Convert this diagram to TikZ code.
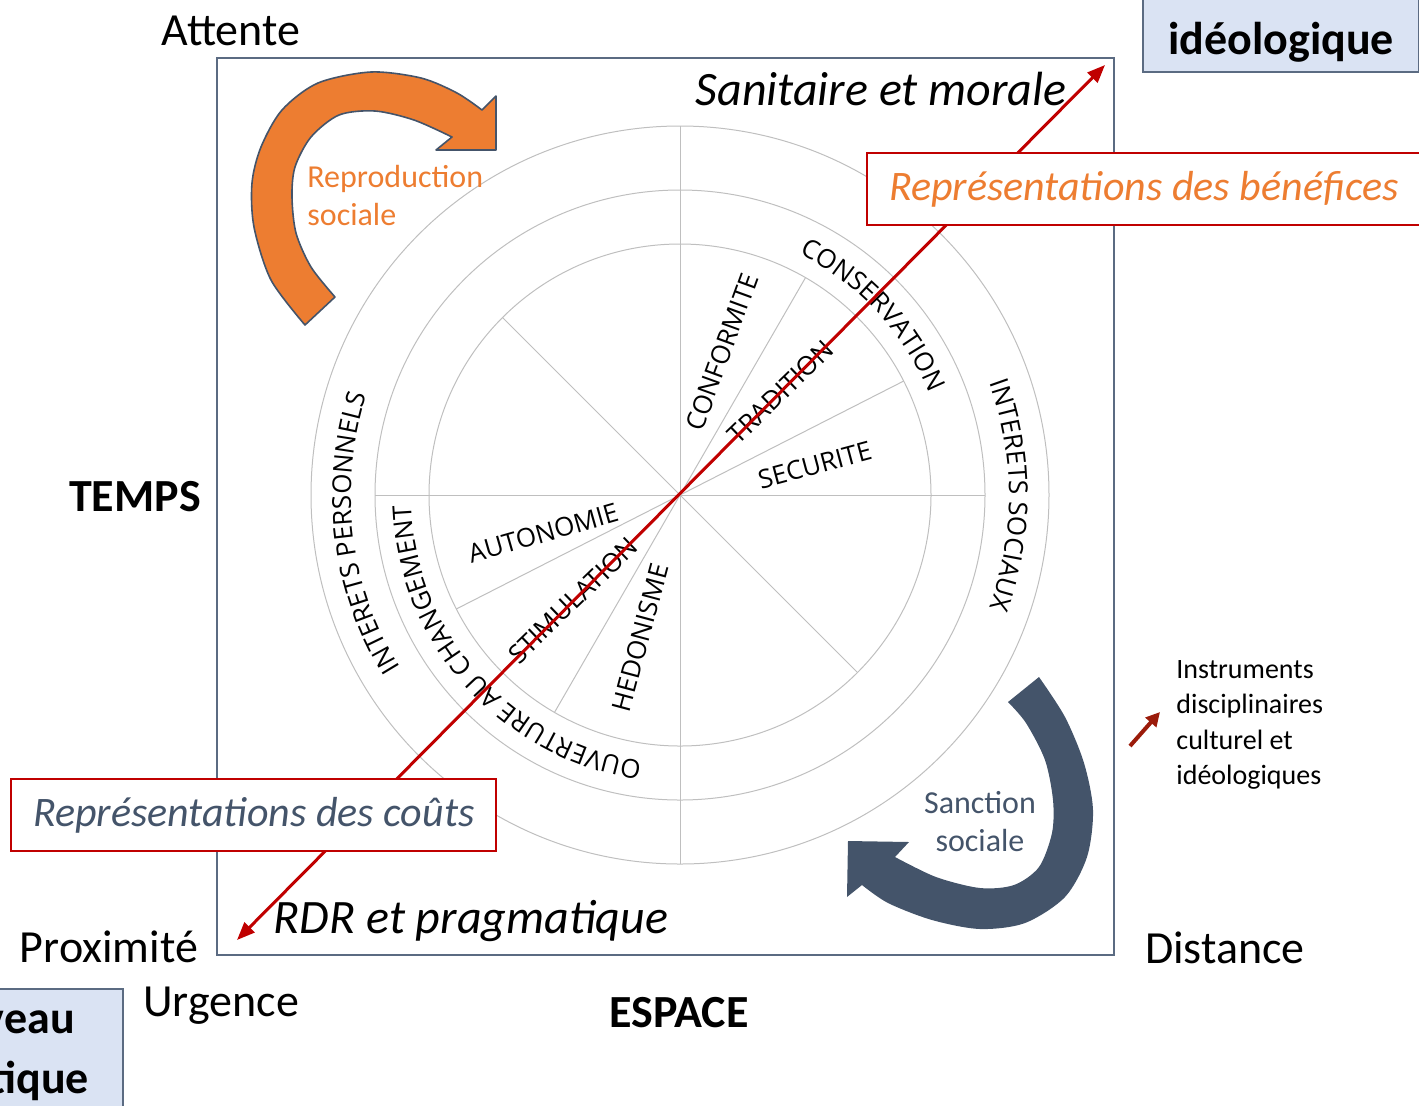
\documentclass[tikz,border=0pt]{standalone}
\usepackage{fontspec}
\setmainfont{Carlito}
\newfontfamily\ringfont{Open Sans}
\usetikzlibrary{calc,arrows.meta,decorations.text}
\definecolor{framegray}{HTML}{5B6B82}
\definecolor{ringgray}{HTML}{BFBFBF}
\definecolor{axisred}{HTML}{C00000}
\definecolor{reproorange}{HTML}{ED7D31}
\definecolor{slate}{HTML}{44546A}
\definecolor{levelblue}{HTML}{DAE3F3}
\definecolor{instrred}{HTML}{9B1B0A}
\newcommand{\ringlabel}{\ringfont\fontsize{13}{15}\selectfont}

\begin{document}
\begin{tikzpicture}[x=0.5pt,y=0.5pt,
  outerframe/.style={draw=framegray,line width=1.2pt},
  ring/.style={draw=ringgray,line width=0.5pt},
  valuelabel/.style={font=\ringlabel,inner sep=0pt},
  dimlabel/.style={font=\fontsize{23}{28}\selectfont,anchor=base,inner sep=0pt},
  polelabel/.style={font=\itshape\fontsize{24}{28}\selectfont,anchor=base,inner sep=0pt},
  redaxis/.style={draw=axisred,line width=1.5pt,{Triangle[length=9pt,width=7pt]}-{Triangle[length=9pt,width=7pt]}},
  reprbox/.style={draw=axisred,line width=1pt,fill=white,inner xsep=11pt,inner ysep=0pt,minimum height=36pt,font=\itshape\fontsize{21}{25}\selectfont,anchor=west},
  levelbox/.style={draw=framegray,line width=1.2pt,fill=levelblue,font=\bfseries\fontsize{23}{30}\selectfont}
]
\useasboundingbox (0,0) rectangle (1419,-1105);
\clip (0,0) rectangle (1419,-1105);

\draw[outerframe] (217,-58) rectangle (1114,-955);

% cercle des valeurs
\coordinate (C) at (680,-495);
\draw[ring] (C) circle[radius=251] (C) circle[radius=305] (C) circle[radius=369];
\draw[ring] ($(C)+(0,369)$) -- ($(C)+(0,-369)$);
\draw[ring] ($(C)+(-305,0)$) -- ($(C)+(305,0)$);
\foreach \a in {27,60,135,207,240,315}
  \draw[ring] (C) -- ++(\a:251);

\foreach \name/\ang/\rad/\rot/\txt in {conf/73.6/149/70/CONFORMITE, trad/45.6/144/44/TRADITION,
    secu/12.5/138/15/SECURITE, auto/195.5/142/16/AUTONOMIE,
    stim/224.5/150/44/STIMULATION, hedo/254.5/148/75/HEDONISME}
  \node[valuelabel,rotate=\rot] (\name) at ($(C)+(\ang:\rad)$) {\txt};

\path[decorate,decoration={text along path,text align=center,
    text={|\ringlabel|CONSERVATION}}]
  ($(C)+(103:269)$) arc[start angle=103,end angle=-17,radius=269];
\path[decorate,decoration={text along path,text align=center,
    text={|\ringlabel|OUVERTURE AU CHANGEMENT}}]
  ($(C)+(282:269)$) arc[start angle=282,end angle=162,radius=269];
\path[decorate,decoration={text along path,text align=center,
    text={|\ringlabel|INTERETS  PERSONNELS}}]
  ($(C)+(247:329)$) arc[start angle=247,end angle=127,radius=329];
\path[decorate,decoration={text along path,text align=center,
    text={|\ringlabel|INTERETS SOCIAUX}}]
  ($(C)+(60:329)$) arc[start angle=60,end angle=-60,radius=329];

% axe couts / benefices
\coordinate (rdr) at (237,-940);
\coordinate (sani) at (1105,-65);
\draw[redaxis] (rdr) -- (sani);

\node[reprbox,text=reproorange] (benef) at (866,-189) {Représentations des bénéfices};
\node[reprbox,text=slate] (couts) at (10,-815) {Représentations des coûts};

% fleches courbes
\filldraw[fill=reproorange,draw=slate,line width=0.8pt,line join=round]
  plot[smooth] coordinates {(305,-325) (271,-280) (254,-227) (252,-183) (261,-147)
    (282,-110) (318,-83) (371,-72) (421,-78) (457,-93) (482,-110)}
  -- (496,-96) -- (496,-150) -- (436,-150)
  -- plot[smooth] coordinates {(452,-137) (414,-120) (375,-111) (339,-115) (311,-137)
    (295,-167) (292,-197) (296,-233) (311,-267) (335,-297)}
  -- cycle;
\node[anchor=west,align=left,text=reproorange,inner sep=0pt,
  font=\fontsize{16}{19}\selectfont] (repro) at (307,-195) {Reproduction\\sociale};

\fill[slate]
  plot[smooth] coordinates {(1039,-677) (1065,-717) (1084,-763) (1093,-810) (1087,-857)
    (1065,-897) (1025,-923) (980,-929) (932,-920) (888,-903) (862,-885)}
  -- (847,-897) -- (848,-841) -- (909,-842)
  -- plot[smooth] coordinates {(895,-857) (936,-877) (980,-888) (1014,-885) (1039,-867)
    (1052,-833) (1053,-800) (1045,-760) (1026,-723) (1008,-702)}
  -- cycle;
\node[align=center,text=slate,inner sep=0pt,
  font=\fontsize{16}{19}\selectfont] (sanction) at (980,-822) {Sanction\\sociale};

% textes autour du cadre
\node[dimlabel] (attente) at (231,-45) {Attente};
\node[dimlabel,font=\bfseries\fontsize{23}{28}\selectfont] (temps) at (135,-511) {TEMPS};
\node[dimlabel] (proxi) at (109,-962) {Proximité};
\node[dimlabel] (urgence) at (221,-1016) {Urgence};
\node[dimlabel,font=\bfseries\fontsize{23}{28}\selectfont] (espace) at (679,-1027) {ESPACE};
\node[dimlabel] (distance) at (1225,-963) {Distance};
\node[polelabel] (sanit) at (881,-105) {Sanitaire et morale};
\node[polelabel] (pragma) at (471,-933) {RDR et pragmatique};

\node[levelbox,minimum width=138pt,text height=40pt,text depth=9pt,inner ysep=0pt,
  anchor=base] (ideo) at (1281,-54) {idéologique};
\node[levelbox,align=center,minimum width=115pt,inner ysep=6pt,anchor=north]
  (prat) at (8,-988) {Niveau\\pratique};

% legende
\coordinate (instrA) at (1130,-746);
\coordinate (instrB) at (1160,-712);
\draw[instrred,line width=2pt,-{Triangle[length=7pt,width=7pt]}] (instrA) -- (instrB);
\node[anchor=west,align=left,inner sep=0pt,font=\fontsize{14}{17.6}\selectfont]
  (instr) at (1176,-725) {Instruments\\disciplinaires\\culturel et\\idéologiques};
\end{tikzpicture}
\end{document}
